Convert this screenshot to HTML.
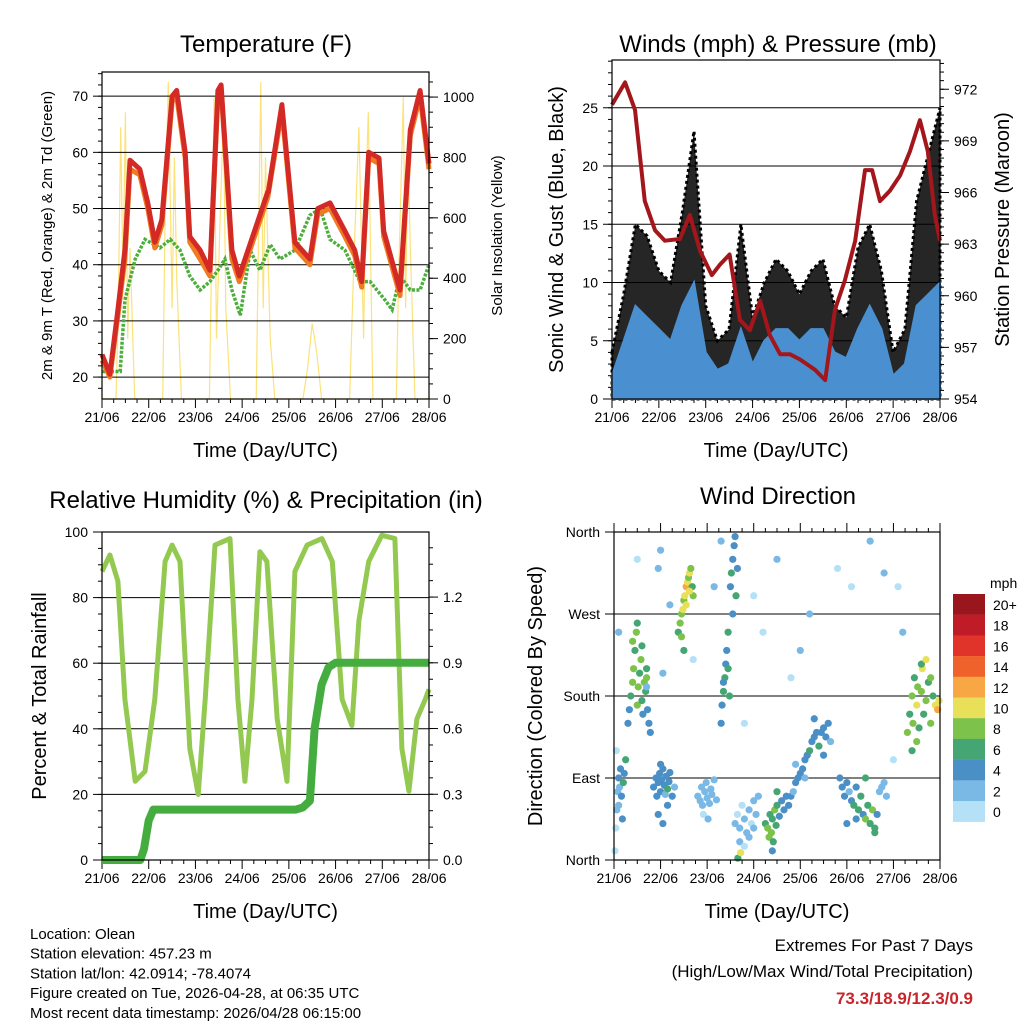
<!DOCTYPE html>
<html><head><meta charset="utf-8"><style>
html,body{margin:0;padding:0;background:#fff;}
svg{display:block;font-family:"Liberation Sans",Arial,sans-serif;}
</style></head><body>
<svg id="c" width="1024" height="1024" viewBox="0 0 1024 1024"></svg>
<script>
// ---------- DATA ----------
const dayLabels=["21/06","22/06","23/06","24/06","25/06","26/06","27/06","28/06"];
const tempT=[0,0.17,0.34,0.49,0.6,0.81,0.98,1.13,1.28,1.5,1.6,1.78,1.88,2.1,2.31,2.48,2.55,2.67,2.78,2.94,3.55,3.56,3.85,4.13,4.45,4.62,4.88,5.2,5.41,5.56,5.71,5.93,6.03,6.38,6.6,6.81,7.0];
const tempV=[24,20.5,32,42.6,58.6,57,51,44,48,70,71,60,45,42.6,39,71,72,57,42.6,38,53,53,68.5,44,41,50,51,46,42.6,37,60,59,46,35.5,64,71,58];
const tempT2=[0,0.17,0.34,0.49,0.6,0.81,0.98,1.13,1.28,1.5,1.6,1.78,1.88,2.1,2.31,2.48,2.55,2.67,2.78,2.94,3.55,3.85,4.13,4.45,4.62,4.88,5.2,5.41,5.56,5.71,5.93,6.03,6.38,6.6,6.81,7.0];
const tempV2=[23,20,31,41,57,56,50,43,47,69,70,59,44,41,38,70,71,56,41,37,52,67.5,43,40,49,50,45,41.6,36,59,58,45,34.5,63,70,57];
const dewT=[0,0.39,0.49,0.71,0.92,1.24,1.46,1.67,1.88,2.1,2.31,2.48,2.63,2.78,2.96,3.17,3.38,3.6,3.81,4.13,4.45,4.67,4.88,5.2,5.52,5.74,6.06,6.21,6.38,6.6,6.81,7.0];
const dewV=[21,21,33.7,41,44.5,43,44.5,42.6,38,35.5,37,39,41,35.5,31,42.6,39,43.6,41,42.6,48.8,50,44.5,42.6,37,37,33.7,32,38,35.5,35.5,40];
const solarT=[0,0.3,0.35,0.4,0.45,0.5,0.55,0.6,0.7,1.0,1.3,1.35,1.42,1.5,1.55,1.6,1.7,2.0,2.3,2.4,2.45,2.55,2.6,2.65,2.75,3.0,3.3,3.4,3.45,3.5,3.55,3.6,3.7,4.0,4.3,4.4,4.5,4.6,4.7,5.0,5.3,5.4,5.5,5.6,5.65,5.7,5.8,6.0,6.3,6.35,6.45,6.5,6.55,6.6,6.7,7.0];
const solarV=[0,0,300,900,400,950,200,500,0,0,0,600,1050,300,800,400,0,0,0,1000,200,700,950,300,0,0,0,1050,300,800,500,200,0,0,0,100,250,150,0,0,0,500,900,200,700,950,0,0,0,400,1000,300,850,500,0,0];
const windT=[0,0.25,0.5,0.75,1,1.25,1.5,1.75,2,2.25,2.5,2.75,3,3.25,3.5,3.75,4,4.25,4.5,4.75,5,5.25,5.5,5.75,6,6.25,6.5,6.75,7];
const gustV=[4,9,15,14,11,10,16,23,8,5,6,15,7,10,12,11,9,11,12,8,7,13,15,11,4,6,17,21,25];
const windV=[2,5,8,7,6,5,8,10,4,2.5,3,6,3,5,6,6,5,6,6,4,3.5,6,8,6,2,3,8,9,10];
const presT=[0,0.28,0.49,0.7,0.92,1.13,1.45,1.66,1.88,2.13,2.3,2.51,2.73,2.94,3.16,3.37,3.59,3.8,4.01,4.33,4.55,4.76,4.97,5.19,5.4,5.55,5.72,5.93,6.15,6.36,6.57,6.74,6.89,7.0];
const presV=[971.1,972.4,970.8,965.5,963.8,963.2,963.3,964.7,962.6,961.2,961.8,962.4,958.6,958,959.7,957.7,956.6,956.6,956.3,955.7,955.1,959.2,960.9,963.2,967.3,967.3,965.5,966.1,967,968.4,970.2,968.4,964.7,963.2];
const rhT=[0,0.17,0.34,0.49,0.71,0.92,1.13,1.35,1.5,1.67,1.88,2.06,2.21,2.42,2.74,2.91,3.06,3.21,3.38,3.53,3.75,3.96,4.13,4.39,4.71,4.93,5.14,5.35,5.5,5.71,5.99,6.27,6.42,6.57,6.74,6.92,7.0];
const rhV=[88,93,85,49,24,27,49,91,96,91,34,20,49,96,98,49,24,49,94,91,43,24,88,96,98,91,49,41,73,91,99,98,34,21,43,49,52];
const rainT=[0,0.82,0.9,1.0,1.1,4.15,4.3,4.45,4.55,4.7,4.85,5.0,7.0];
const rainV=[0,0,0.05,0.18,0.23,0.23,0.24,0.27,0.6,0.8,0.88,0.9,0.9];
const wdT=[0.02,0.04,0.06,0.08,0.1,0.12,0.14,0.16,0.2,0.22,0.25,0.05,0.1,0.18,
0.3,0.33,0.36,0.4,0.42,0.45,0.48,0.5,0.52,0.55,0.58,0.6,0.62,0.65,0.68,0.7,0.72,0.75,0.78,0.4,0.5,0.6,0.7,
0.85,0.9,0.92,0.95,0.98,1.0,1.02,1.05,1.08,1.1,1.12,1.15,1.18,1.2,1.25,1.3,0.95,1.05,1.15,1.0,
1.38,1.42,1.45,1.48,1.5,1.52,1.55,1.58,1.6,1.62,1.65,1.68,1.7,1.45,1.55,1.62,1.5,
1.8,1.85,1.88,1.9,1.95,1.98,2.0,2.05,2.08,2.1,2.15,2.2,1.92,2.02,
2.3,2.32,2.35,2.38,2.4,2.42,2.45,2.48,2.5,2.52,2.55,2.58,2.6,2.62,2.65,2.35,2.45,2.55,
2.6,2.65,2.7,2.75,2.8,2.85,2.9,2.95,3.0,3.05,3.1,2.7,2.8,2.9,3.0,2.66,2.72,
3.25,3.3,3.33,3.35,3.38,3.4,3.42,3.45,3.48,3.5,3.55,3.6,3.65,3.7,3.4,3.5,
3.75,3.8,3.85,3.9,3.95,4.0,4.05,4.1,4.15,4.2,4.25,4.3,4.35,4.4,4.45,4.5,4.55,4.6,4.65,3.9,4.1,4.3,4.5,
4.85,4.9,4.95,5.0,5.05,5.1,5.15,5.2,5.25,5.3,5.35,5.4,5.45,5.5,5.55,5.6,5.65,5.7,5.75,5.8,5.85,5.0,5.2,5.4,5.6,
6.3,6.35,6.4,6.42,6.45,6.5,6.52,6.55,6.6,6.62,6.65,6.7,6.75,6.8,6.85,6.9,6.95,6.98,6.4,6.6,6.8,6.5,6.7,
0.1,0.5,0.95,1.0,1.2,1.7,2.15,2.3,3.2,3.5,3.8,4.2,4.8,5.1,5.5,5.8,6.1,6.2,1.05,0.7,2.8,4.0,3.0,6.0];
const wdDir=[10,35,55,75,90,80,100,70,85,95,110,120,60,45,
150,165,180,195,210,230,250,170,190,205,220,175,160,195,185,210,165,150,140,240,260,235,200,
80,90,70,85,95,75,88,100,82,72,92,78,86,96,70,80,50,40,60,105,
250,260,270,275,285,290,300,305,310,315,320,300,290,245,280,295,230,
70,65,80,60,75,85,68,62,78,72,88,66,50,45,
150,170,185,200,215,230,250,180,300,315,330,345,355,290,320,195,210,270,
40,50,35,60,45,30,55,40,65,50,70,20,15,25,35,2,8,
40,35,25,50,30,45,20,55,38,60,48,65,55,70,10,75,
60,70,75,85,90,95,100,110,115,120,130,135,140,125,140,145,135,150,130,105,90,155,115,
90,80,70,85,75,65,60,80,55,70,50,45,60,40,55,35,50,75,80,85,70,40,45,90,30,
140,160,180,150,200,170,190,145,185,210,160,175,195,150,180,170,165,175,120,215,200,130,220,
250,330,320,340,280,220,300,350,250,330,200,270,320,300,350,315,300,250,205,190,150,230,290,110];
const wdSpd=[1,0,2,2,4,3,4,5,6,4,7,1,2,4,
4,4,6,8,8,6,8,8,9,7,8,6,4,8,7,6,4,4,4,8,6,7,8,
4,4,4,5,4,4,5,4,4,3,4,6,4,4,4,3,4,4,4,4,
7,8,9,10,8,10,12,10,9,10,8,6,8,8,10,10,7,
2,2,3,2,2,3,2,2,2,3,2,2,1,2,
4,4,6,6,4,4,6,6,4,6,4,4,4,6,4,5,6,4,
2,1,2,1,2,3,2,1,2,3,2,2,1,3,2,6,10,
6,8,8,6,8,7,6,8,6,6,4,4,5,4,4,6,
4,4,3,4,4,4,5,4,4,6,4,4,5,6,4,4,4,4,3,2,2,4,5,
4,4,4,4,3,4,6,4,6,6,4,8,6,6,8,6,4,2,2,2,2,4,4,6,6,
8,6,8,8,6,10,8,6,8,10,6,8,6,8,6,10,12,10,6,6,8,8,10,
2,1,2,2,2,1,2,2,1,2,1,2,1,1,3,2,1,2,2,3,1,2,1,1];
const cbLabels=["20+","18","16","14","12","10","8","6","4","2","0"];
const cbColors=["#9a161d","#c01c27","#e0342b","#f0622c","#f7a845","#e7e058","#7dc24b","#46a673","#4a8fc6","#7ab9e6","#b5e1f7"];

// ---------- HELPERS ----------
const NS="http://www.w3.org/2000/svg",svg=document.getElementById('c');
function el(tag,attrs,parent,text){const e=document.createElementNS(NS,tag);for(const k in attrs)e.setAttribute(k,attrs[k]);if(text!==undefined)e.textContent=text;(parent||svg).appendChild(e);return e;}
function lin(d0,d1,r0,r1){return v=>r0+(v-d0)/(d1-d0)*(r1-r0);}
function pts(xs,ys,sx,sy){return xs.map((t,i)=>sx(t).toFixed(1)+","+sy(ys[i]).toFixed(1)).join(" ");}

function panel(name,x0,y0,x1,y1,title,titleX,titleY){
  const g=el('g',{},svg);
  
  
  const t=el('text',{x:titleX,y:titleY,'font-size':24,'text-anchor':'middle'},g,title);
  
  
  return g;
}
function xAxis(g,x0,x1,y0,y1,topTicks){
  const sx=lin(0,7,x0,x1);
  const a=el('g',{},g);
  
  
  for(let d=0;d<=7;d++){
    const x=sx(d);
    el('line',{x1:x,x2:x,y1:y1,y2:y1+9,stroke:'#000','stroke-width':1},a);
    if(topTicks)el('line',{x1:x,x2:x,y1:y0,y2:y0-9,stroke:'#000','stroke-width':1},a);
    const tl=el('text',{x:x,y:y1+23,'font-size':14,'text-anchor':'middle'},a,dayLabels[d]);
    
    
    if(d<7)for(let m=1;m<4;m++){const xm=sx(d+m/4);el('line',{x1:xm,x2:xm,y1:y1,y2:y1+4,stroke:'#000'},a);if(topTicks)el('line',{x1:xm,x2:xm,y1:y0,y2:y0-4,stroke:'#000'},a);}
  }
  const xt=el('text',{x:(x0+x1)/2,y:y1+58,'font-size':20,'text-anchor':'middle'},a,'Time (Day/UTC)');
  
  
  return sx;
}
function yAxis(g,side,x,y0,y1,d0,d1,ticks,labels,minor,grid,x0,x1,title,titleX){
  const sy=lin(d0,d1,y1,y0);
  const a=el('g',{},g);
  
  
  const dir=side==='left'?-1:1;
  ticks.forEach((v,i)=>{
    const y=sy(v);
    el('line',{x1:x,x2:x+dir*9,y1:y,y2:y,stroke:'#000'},a);
    if(grid)el('line',{x1:x0,x2:x1,y1:y,y2:y,stroke:'#000','stroke-width':1},a);
    const tl=el('text',{x:x+dir*14,y:y+5,'font-size':14,'text-anchor':side==='left'?'end':'start'},a,labels[i]);
    
    
  });
  minor.forEach(v=>{const y=sy(v);if(y>=y0-0.5&&y<=y1+0.5)el('line',{x1:x,x2:x+dir*4,y1:y,y2:y,stroke:'#000'},a);});
  const yc=(y0+y1)/2;
  const tt=el('text',{x:titleX,y:yc,'font-size':title.size||20,'text-anchor':'middle',transform:`rotate(-90 ${titleX} ${yc})`},a,title.text);
  
  
  return sy;
}
function frame(g,x0,y0,x1,y1){el('rect',{x:x0,y:y0,width:x1-x0,height:y1-y0,fill:'none',stroke:'#000','stroke-width':1.2},g);}
function range(a,b,s){const r=[];for(let v=a;v<=b+1e-9;v+=s)r.push(+v.toFixed(3));return r;}

// ---------- PANEL 1: TEMPERATURE ----------
(function(){
  const x0=102,x1=429,y0=72,y1=399;
  const g=panel('temperature-panel',x0,y0,x1,y1,'Temperature (F)',266,52);
  const sx=xAxis(g,x0,x1,y0,y1,false);
  const syS=yAxis(g,'right',x1,y0,y1,0,1083,[0,200,400,600,800,1000],["0","200","400","600","800","1000"],range(0,1080,50),false,x0,x1,{text:'Solar Insolation (Yellow)',size:15},502);
  const sol=el('polyline',{points:pts(solarT,solarV,sx,syS),fill:'none',stroke:'#fbe27a','stroke-width':1.2},g);
  
  
  const sy=yAxis(g,'left',x0,y0,y1,16.1,74.3,[20,30,40,50,60,70],["20","30","40","50","60","70"],range(16,74,2),true,x0,x1,{text:'2m & 9m T (Red, Orange) & 2m Td (Green)',size:15},52);
  const dew=el('polyline',{points:pts(dewT,dewV,sx,sy),fill:'none',stroke:'#4cae3c','stroke-width':3.5,'stroke-dasharray':'3 1.5'},g);
  
  
  const t9=el('polyline',{points:pts(tempT2,tempV2,sx,sy),fill:'none',stroke:'#f07a22','stroke-width':5,'stroke-linejoin':'round'},g);
  
  
  const t2=el('polyline',{points:pts(tempT,tempV,sx,sy),fill:'none',stroke:'#d42a26','stroke-width':5,'stroke-linejoin':'round'},g);
  
  
  frame(g,x0,y0,x1,y1);
})();

// ---------- PANEL 2: WINDS & PRESSURE ----------
(function(){
  const x0=612,x1=940,y0=60,y1=399;
  const g=panel('winds-panel',x0,y0,x1,y1,'Winds (mph) & Pressure (mb)',778,52);
  const sx=xAxis(g,x0,x1,y0,y1,false);
  const sy=yAxis(g,'left',x0,y0,y1,0,29.1,[0,5,10,15,20,25],["0","5","10","15","20","25"],range(0,29,1),true,x0,x1,{text:'Sonic Wind & Gust (Blue, Black)',size:20},563);
  const gp=pts(windT,gustV,sx,sy)+` ${sx(7)},${sy(0)} ${sx(0)},${sy(0)}`;
  const gu=el('polygon',{points:gp,fill:'#000','fill-opacity':0.85,stroke:'#000','stroke-width':3,'stroke-dasharray':'3 3'},g);
  
  
  const wp=pts(windT,windV,sx,sy)+` ${sx(7)},${sy(0)} ${sx(0)},${sy(0)}`;
  const wi=el('polygon',{points:wp,fill:'#4a90d0',stroke:'#4a90d0','stroke-width':2},g);
  
  
  const syP=yAxis(g,'right',x1,y0,y1,954,973.7,[954,957,960,963,966,969,972],["954","957","960","963","966","969","972"],range(954,973.5,0.5),false,x0,x1,{text:'Station Pressure (Maroon)',size:20},1009);
  const pr=el('polyline',{points:pts(presT,presV,sx,syP),fill:'none',stroke:'#a3171c','stroke-width':4,'stroke-linejoin':'round'},g);
  
  
  frame(g,x0,y0,x1,y1);
})();

// ---------- PANEL 3: RH & PRECIP ----------
(function(){
  const x0=102,x1=429,y0=532,y1=860;
  const g=panel('humidity-panel',x0,y0,x1,y1,'Relative Humidity (%) & Precipitation (in)',266,508);
  const sx=xAxis(g,x0,x1,y0,y1,false);
  const sy=yAxis(g,'left',x0,y0,y1,0,100,[0,20,40,60,80,100],["0","20","40","60","80","100"],range(0,100,5),true,x0,x1,{text:'Percent & Total Rainfall',size:20},46);
  const syR=yAxis(g,'right',x1,y0,y1,0,1.497,[0,0.3,0.6,0.9,1.2],["0.0","0.3","0.6","0.9","1.2"],range(0,1.5,0.075),false,x0,x1,{text:'',size:20},500);
  const rh=el('polyline',{points:pts(rhT,rhV,sx,sy),fill:'none',stroke:'#93c950','stroke-width':5,'stroke-linejoin':'round'},g);
  
  
  const rn=el('polyline',{points:pts(rainT,rainV,sx,syR),fill:'none',stroke:'#45ad3f','stroke-width':8,'stroke-linejoin':'round'},g);
  
  
  frame(g,x0,y0,x1,y1);
})();

// ---------- PANEL 4: WIND DIRECTION ----------
(function(){
  const x0=614,x1=940,y0=532,y1=860;
  const g=panel('wind-direction-panel',x0,y0,x1,y1,'Wind Direction',778,504);
  const sx=xAxis(g,x0,x1,y0,y1,true);
  const sy=yAxis(g,'left',x0,y0,y1,0,360,[0,90,180,270,360],["North","East","South","West","North"],[],true,x0,x1,{text:'Direction (Colored By Speed)',size:20},542);
  const dots=el('g',{},g);
  
  
  const n=Math.min(wdT.length,wdDir.length,wdSpd.length);
  for(let i=0;i<n;i++){
    const b=Math.min(10,Math.floor(wdSpd[i]/2));
    const c=el('circle',{cx:sx(wdT[i]),cy:sy(wdDir[i]),r:3.6,fill:cbColors[10-b]},dots);
    
    
  }
  frame(g,x0,y0,x1,y1);
  const cb=el('g',{},svg);
  
  
  const ut=el('text',{x:990,y:588,'font-size':14},cb,'mph');
  
  
  cbLabels.forEach((l,i)=>{
    const y=594+i*20.7;
    el('rect',{x:953,y:y,width:32,height:20.9,fill:cbColors[i]},cb);
    const tl=el('text',{x:993,y:y+16,'font-size':14},cb,l);
    
    
  });
})();

// ---------- FOOTER TEXT ----------
const info=["Location: Olean","Station elevation: 457.23 m","Station lat/lon: 42.0914; -78.4074","Figure created on Tue, 2026-04-28, at 06:35 UTC","Most recent data timestamp: 2026/04/28 06:15:00"];
info.forEach((s,i)=>{const t=el('text',{x:30,y:939+i*19.7,'font-size':15},svg,s);
  
  });
const e1=el('text',{x:973,y:951,'font-size':17,'text-anchor':'end'},svg,'Extremes For Past 7 Days');


const e2=el('text',{x:973,y:977,'font-size':17,'text-anchor':'end'},svg,'(High/Low/Max Wind/Total Precipitation)');


const e3=el('text',{x:973,y:1004,'font-size':17,'font-weight':'bold','text-anchor':'end',fill:'#c8262c'},svg,'73.3/18.9/12.3/0.9');


</script>
</body></html>
